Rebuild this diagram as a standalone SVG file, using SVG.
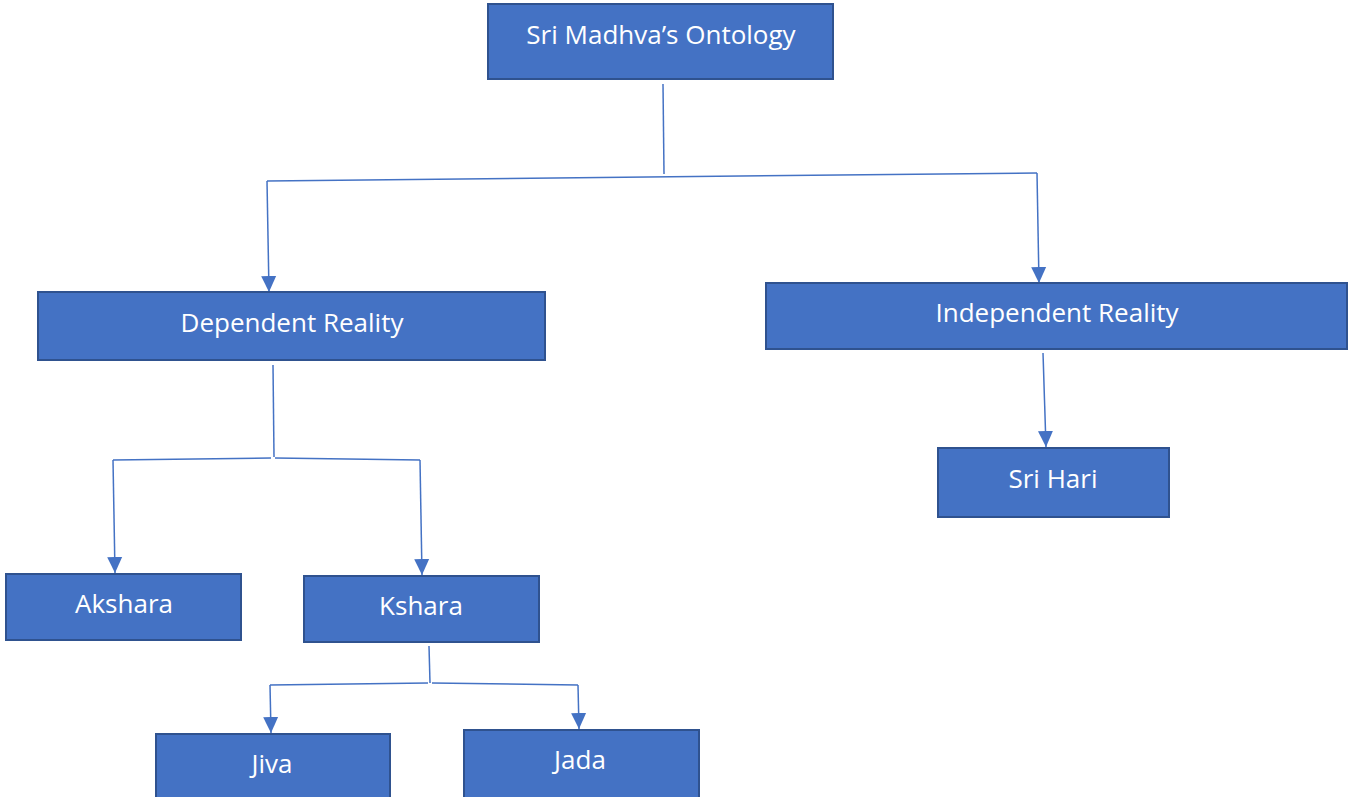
<svg xmlns="http://www.w3.org/2000/svg" width="1367" height="797" viewBox="0 0 1367 797">
<style>
.box{fill:#4472C4;stroke:#2F528F;stroke-width:2}
.lbl{fill:#FFFFFF;font-family:"Open Sans","Liberation Sans",sans-serif;font-size:26px;text-anchor:middle}
.ln{fill:none;stroke:#4472C4;stroke-width:1.5}
</style>
<defs>
<marker id="arr" markerUnits="userSpaceOnUse" markerWidth="17" markerHeight="17" viewBox="0 0 17 17" refX="16" refY="8.5" orient="auto">
<path d="M0,1 L16,8.5 L0,16 Z" fill="#4472C4"/>
</marker>
</defs>
<rect width="1367" height="797" fill="#FFFFFF"/>
<g id="connectors">
<path class="ln" d="M663,84 L664,174"/>
<path class="ln" d="M267,181 L1037,173"/>
<path class="ln" d="M267,181 L269,292" marker-end="url(#arr)"/>
<path class="ln" d="M1037,173 L1039,283" marker-end="url(#arr)"/>
<path class="ln" d="M1043,353 L1046,447" marker-end="url(#arr)"/>
<path class="ln" d="M273,365 L274,457"/>
<path class="ln" d="M113,460 L271,458 M275,458 L420,460"/>
<path class="ln" d="M113,460 L115,573" marker-end="url(#arr)"/>
<path class="ln" d="M420,460 L422,575" marker-end="url(#arr)"/>
<path class="ln" d="M429,646 L430,683"/>
<path class="ln" d="M270,685 L428,683 M432,683 L578,685"/>
<path class="ln" d="M270,685 L271,733" marker-end="url(#arr)"/>
<path class="ln" d="M578,685 L579,729" marker-end="url(#arr)"/>
</g>
<g id="n-ontology">
<rect class="box" x="488" y="4" width="345" height="75"/>
<text class="lbl" x="661" y="44">Sri Madhva’s Ontology</text>
</g>
<g id="n-dependent">
<rect class="box" x="38" y="292" width="507" height="68"/>
<text class="lbl" x="292" y="332">Dependent Reality</text>
</g>
<g id="n-independent">
<rect class="box" x="766" y="283" width="581" height="66"/>
<text class="lbl" x="1057" y="322">Independent Reality</text>
</g>
<g id="n-srihari">
<rect class="box" x="938" y="448" width="231" height="69"/>
<text class="lbl" x="1053" y="488">Sri Hari</text>
</g>
<g id="n-akshara">
<rect class="box" x="6" y="574" width="235" height="66"/>
<text class="lbl" x="124" y="613">Akshara</text>
</g>
<g id="n-kshara">
<rect class="box" x="304" y="576" width="235" height="66"/>
<text class="lbl" x="421" y="615">Kshara</text>
</g>
<g id="n-jiva">
<rect class="box" x="156" y="734" width="234" height="70"/>
<text class="lbl" x="272" y="773">Jiva</text>
</g>
<g id="n-jada">
<rect class="box" x="464" y="730" width="235" height="70"/>
<text class="lbl" x="580" y="769">Jada</text>
</g>
</svg>
